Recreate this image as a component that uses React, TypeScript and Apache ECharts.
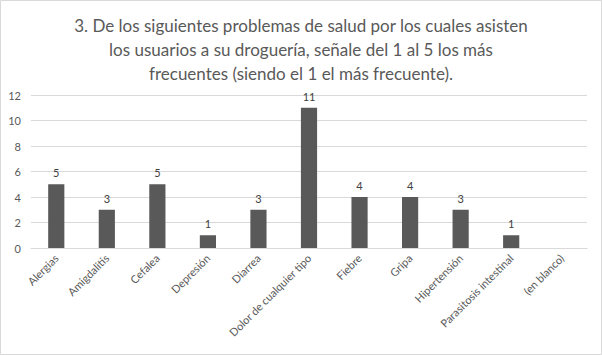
import React, { useEffect, useRef } from "react";
import * as echarts from "echarts";

const categories = [
  "Alergias",
  "Amigdalitis",
  "Cefalea",
  "Depresión",
  "Diarrea",
  "Dolor de cualquier tipo",
  "Fiebre",
  "Gripa",
  "Hipertensión",
  "Parasitosis intestinal",
  "(en blanco)",
];
const values: (number | null)[] = [5, 3, 5, 1, 3, 11, 4, 4, 3, 1, null];
const titleLines = [
  "3. De los siguientes problemas de salud por los cuales asisten",
  "los usuarios a su droguería, señale del 1 al 5 los más",
  "frecuentes (siendo el 1 el más frecuente).",
];

export default function App() {
  const ref = useRef<HTMLDivElement>(null);
  useEffect(() => {
    document.body.style.margin = "0";
    const chart = echarts.init(ref.current!, null, { renderer: "svg" });
    const font = "Lato, 'Open Sans', sans-serif";
    chart.setOption({
      animation: false,
      textStyle: { fontFamily: font },
      title: {
        text: titleLines.join("\n"),
        left: "center",
        top: 8,
        textStyle: { fontSize: 17, lineHeight: 24, color: "#595959", fontWeight: "normal", fontFamily: font },
      },
      graphic: [
        {
          type: "rect",
          shape: { x: 0.5, y: 0.5, width: 601, height: 354 },
          style: { fill: "none", stroke: "#d9d9d9", lineWidth: 1 },
          silent: true,
        },
      ],
      grid: { left: 31, right: 15, top: 95, bottom: 107, containLabel: false },
      xAxis: {
        type: "category",
        data: categories,
        axisLine: { lineStyle: { color: "#d9d9d9" } },
        axisTick: { show: false },
        axisLabel: { rotate: 45, interval: 0, fontSize: 11, color: "#595959", margin: 8, fontFamily: font },
      },
      yAxis: {
        type: "value",
        min: 0,
        max: 12,
        interval: 2,
        axisLine: { show: false },
        axisTick: { show: false },
        splitLine: { lineStyle: { color: "#d9d9d9" } },
        axisLabel: { fontSize: 11, color: "#595959", margin: 10, fontFamily: font },
      },
      series: [
        {
          type: "bar",
          data: values,
          barWidth: "32%",
          itemStyle: { color: "#595959" },
          label: { show: true, position: "top", fontSize: 11, color: "#404040", distance: 6, fontFamily: font },
        },
      ],
    });
    return () => chart.dispose();
  }, []);
  return <div ref={ref} style={{ width: 602, height: 355 }} />;
}
